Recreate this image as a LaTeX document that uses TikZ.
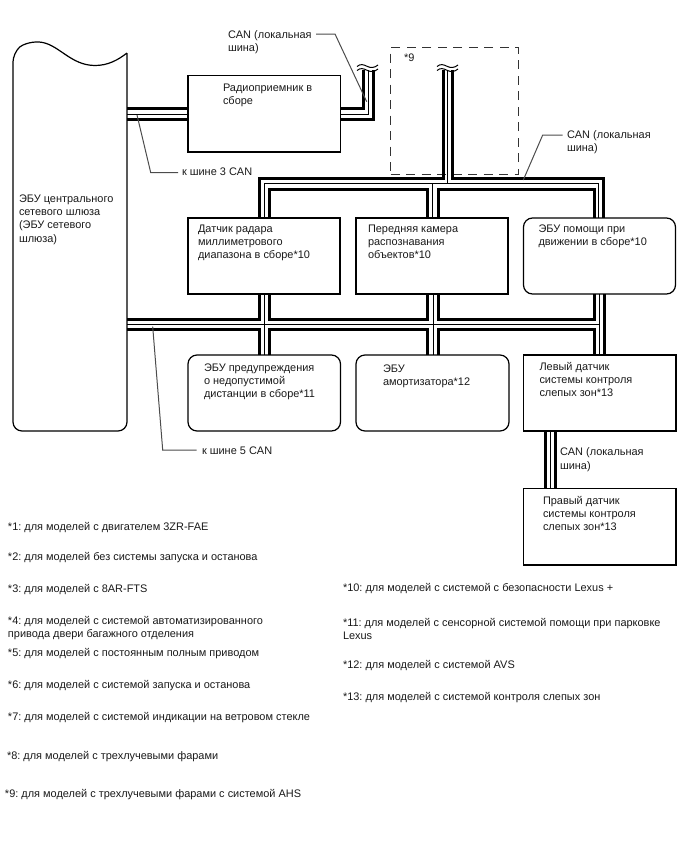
\documentclass[tikz,border=0pt]{standalone}
\usepackage{fontspec}
\setmainfont{Liberation Sans}
\frenchspacing
\newcommand{\bxt}[5]{\parbox[c][#2pt][t]{#1pt}{\leftskip=#3pt\rightskip=0pt plus 1fil\parindent=0pt\parfillskip=0pt plus 1fil\vspace*{#4pt}\rule{0pt}{9pt}#5}}
\newcommand{\tln}[2]{\parbox[t]{#1pt}{\parindent=0pt\raggedright\rule{0pt}{9pt}#2}}
\tikzset{
  x=1pt,y=-1pt,
  every node/.style={inner sep=0pt,outer sep=0pt,font=\fontsize{10.95}{13.4}\selectfont\frenchspacing,text=black!90},
  bx/.style={draw=black,line width=1.2pt,rectangle,anchor=north west},
  rbx/.style={bx,rounded corners=9pt},
  gwbx/.style={rectangle,anchor=north west},
  dbx/.style={draw=black!80,line width=1pt,rectangle,anchor=north west,dash pattern=on 9pt off 6.5pt},
  txt/.style={anchor=north west},
  fn/.style={anchor=base west},
  thickw/.style={line width=3pt,black,line join=miter},
  thinw/.style={line width=1pt,black},
  lead/.style={line width=1pt,black!70},
  outl/.style={line width=1.2pt,black},
  wavemark/.pic={
    \draw[line width=1pt,black] (-10.5,-3.5) .. controls (-7,-6.5) and (-4,-5.5) .. (0,-3.5) .. controls (3,-2) and (7,-2) .. (10.5,-5);
    \draw[line width=1pt,black] (-10.5,0.5) .. controls (-7,-2.5) and (-4,-1.5) .. (0,0.5) .. controls (3,2) and (7,2) .. (10.5,-1);
  }
}
\begin{document}
\begin{tikzpicture}
\useasboundingbox (0,0) rectangle (688,852);
% boxes
\node[gwbx] (gw) at (13,53) {\bxt{114}{378}{6}{140}{ЭБУ центрального\\сетевого шлюза\\(ЭБУ сетевого\\шлюза)}};
\draw[outl] (gw.north east) [rounded corners=9pt] -- (gw.south east) -- (gw.south west) -- (gw.north west) [sharp corners] .. controls (22,45) and (30,41.5) .. (39,42) .. controls (58,43) and (70,65.5) .. (95,65.5) .. controls (108,65.5) and (118,60) .. (gw.north east);
\node[bx] (rad) at (188,75.5) {\bxt{152.5}{76.5}{35}{6.5}{Радиоприемник в\\сборе}};
\node[dbx] (d9) at (390.5,47.5) {\bxt{127.5}{126.5}{13.5}{4.5}{*9}};
\node[bx] (b1) at (188,218) {\bxt{152}{76}{10}{5}{Датчик радара\\миллиметрового\\диапазона в сборе*10}};
\node[bx] (b2) at (356,218) {\bxt{152}{76}{12}{5}{Передняя камера\\распознавания\\объектов*10}};
\node[rbx] (b3) at (523.5,218) {\bxt{152}{76}{15}{5}{ЭБУ помощи при\\движении в сборе*10}};
\node[rbx] (b4) at (188,355) {\bxt{152.5}{76}{16}{7}{ЭБУ предупреждения\\о недопустимой\\дистанции в сборе*11}};
\node[rbx] (b5) at (356,355) {\bxt{153}{76}{27}{8}{ЭБУ\\амортизатора*12}};
\node[bx] (b6) at (523.5,355) {\bxt{152.5}{76}{16}{6}{Левый датчик\\системы контроля\\слепых зон*13}};
\node[bx] (b7) at (523.5,488.5) {\bxt{152.5}{76.5}{19.5}{6.5}{Правый датчик\\системы контроля\\слепых зон*13}};
% wave ends
\coordinate (w1) at (367.5,70);
\coordinate (w2) at (447.5,70);
% radio bus
\draw[thickw] (gw.east |- 0,108.5) -- (rad.west |- 0,108.5);
\draw[thinw]  (gw.east |- 0,114) -- (rad.west |- 0,114);
\draw[thickw] (gw.east |- 0,119) -- (rad.west |- 0,119);
\draw[thickw] (rad.east |- 0,108.5) -- (363.5,108.5) -- (363.5,0 |- w1);
\draw[thinw]  (rad.east |- 0,114) -- (368,114) -- (368,0 |- w1);
\draw[thickw] (rad.east |- 0,119.5) -- (373.5,119.5) -- (373.5,0 |- w1);
% upper bus
\draw[thickw] (259,0 |- b1.north) -- (259,178) -- (443.5,178) -- (443.5,0 |- w2);
\draw[thickw] (452.5,0 |- w2) -- (452.5,178) -- (603.5,178) -- (603.5,0 |- b3.north);
\draw[thinw]  (264,0 |- b1.north) -- (264,183) -- (598.5,183) -- (598.5,0 |- b3.north);
\draw[thinw]  (447.7,0 |- w2) -- (447.7,183);
\draw[thinw]  (432.7,183) -- (432.7,0 |- b2.north);
\draw[thickw] (269.5,0 |- b1.north) -- (269.5,189) -- (427.5,189) -- (427.5,0 |- b2.north);
\draw[thickw] (438,0 |- b2.north) -- (438,189) -- (594,189) -- (594,0 |- b3.north);
% lower bus
\draw[thickw] (gw.east |- 0,319.3) -- (259,319.3) -- (259,0 |- b1.south);
\draw[thickw] (gw.east |- 0,329.5) -- (259,329.5) -- (259,0 |- b4.north);
\draw[thinw]  (gw.east |- 0,324.3) -- (599,324.3);
\draw[thinw]  (264,0 |- b1.south) -- (264,0 |- b4.north);
\draw[thinw]  (433,0 |- b2.south) -- (433,0 |- b5.north);
\draw[thinw]  (599,0 |- b3.south) -- (599,0 |- b6.north);
\draw[thickw] (269.5,0 |- b1.south) -- (269.5,319.3) -- (427.5,319.3) -- (427.5,0 |- b2.south);
\draw[thickw] (269.5,0 |- b4.north) -- (269.5,329.5) -- (427.5,329.5) -- (427.5,0 |- b5.north);
\draw[thickw] (438,0 |- b2.south) -- (438,319.3) -- (594,319.3) -- (594,0 |- b3.south);
\draw[thickw] (438,0 |- b5.north) -- (438,329.5) -- (594,329.5) -- (594,0 |- b6.north);
\draw[thickw] (604,0 |- b3.south) -- (604,0 |- b6.north);
% link between blind-spot sensors
\draw[thickw] (545.3,0 |- b6.south) -- (545.3,0 |- b7.north);
\draw[thinw]  (550.3,0 |- b6.south) -- (550.3,0 |- b7.north);
\draw[thickw] (555,0 |- b6.south) -- (555,0 |- b7.north);
% wave marks
\pic at (w1) {wavemark};
\pic at (w2) {wavemark};
% labels and leaders
\node[txt] (c1) at (228,29) {\tln{100}{CAN (локальная\\шина)}};
\coordinate (la1) at (316,34);
\draw[lead] (la1) -- (335,34) -- (366.7,101.7);
\node[txt] (c2) at (567,129) {\tln{100}{CAN (локальная\\шина)}};
\coordinate (la2) at (562.7,135);
\draw[lead] (la2) -- (542.7,135) -- (523.3,180);
\node[txt] (c3) at (560,446.7) {\tln{100}{CAN (локальная\\шина)}};
\node[anchor=base west] (k3) at (182,175) {к шине 3 CAN};
\coordinate (la3) at (178,172.5);
\draw[lead] (la3) -- (150.7,172.5) -- (137,115);
\node[anchor=base west] (k5) at (202,454) {к шине 5 CAN};
\coordinate (la5) at (196.7,450);
\draw[lead] (la5) -- (162.7,450) -- (152.7,326.7);
% footnotes left
\node[fn] (f1) at (8,530.7) {*1: для моделей с двигателем 3ZR-FAE};
\node[fn] (f2) at (8,560.7) {*2: для моделей без системы запуска и останова};
\node[fn] (f3) at (8,592.3) {*3: для моделей с 8AR-FTS};
\node[txt] (f4) at (8,615) {\tln{300}{*4: для моделей с системой автоматизированного\\привода двери багажного отделения}};
\node[fn] (f5) at (8,656.3) {*5: для моделей с постоянным полным приводом};
\node[fn] (f6) at (8,688.3) {*6: для моделей с системой запуска и останова};
\node[fn] (f7) at (8,720.7) {*7: для моделей с системой индикации на ветровом стекле};
\node[fn] (f8) at (7,759.7) {*8: для моделей с трехлучевыми фарами};
\node[fn] (f9) at (5,797.3) {*9: для моделей с трехлучевыми фарами с системой AHS};
% footnotes right
\node[fn] (f10) at (343,591) {*10: для моделей с системой с безопасности Lexus +};
\node[txt] (f11) at (343,617) {\tln{335}{*11: для моделей с сенсорной системой помощи при парковке\\Lexus}};
\node[fn] (f12) at (343,668) {*12: для моделей с системой AVS};
\node[fn] (f13) at (343,700.7) {*13: для моделей с системой контроля слепых зон};
\end{tikzpicture}
\end{document}
